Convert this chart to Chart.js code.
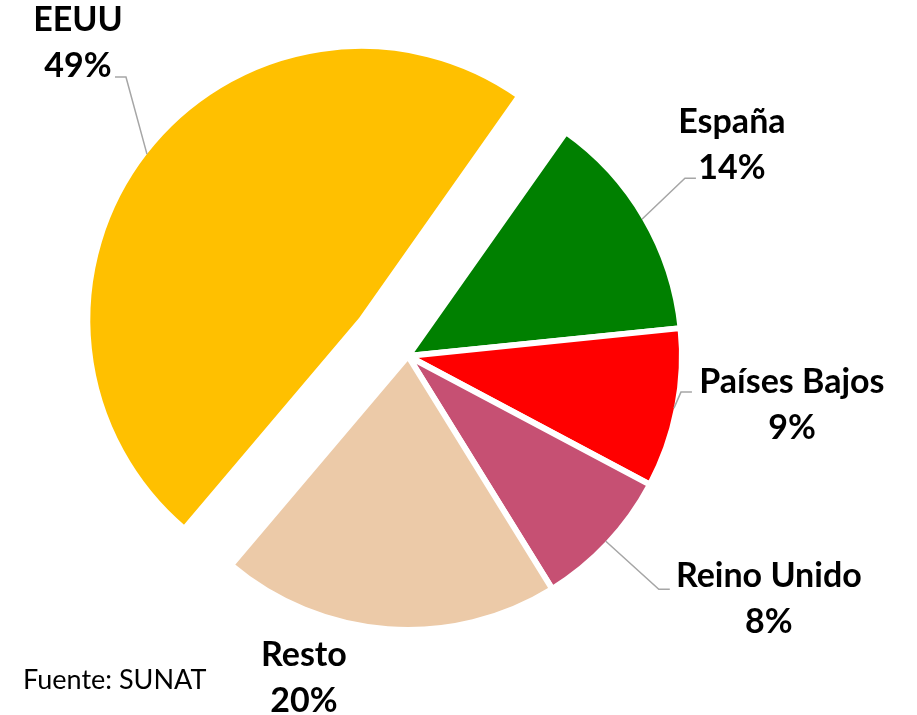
<!DOCTYPE html>
<html lang="es">
<head>
<meta charset="utf-8">
<title>Exportaciones por destino</title>
<script src="https://cdn.jsdelivr.net/npm/chart.js@4.4.1/dist/chart.umd.min.js"></script>
<style>
  html, body { margin: 0; padding: 0; background: #fff; }
  #wrap { position: relative; width: 917px; height: 715px; }
</style>
</head>
<body>
<div id="wrap"><canvas id="chart"></canvas></div>
<script>
// ── Datos (% del total), en orden horario empezando por España ──
const paises = ['España', 'Países Bajos', 'Reino Unido', 'Resto', 'EEUU'];
const participacion = [13.6, 9.4, 8.4, 20.0, 48.6];
const colores = ['#008000', '#FF0000', '#C65073', '#ECCAA8', '#FFC000'];
const fuente = 'Fuente: SUNAT';

// porción separada (EEUU) y cuánto se aleja del centro
const EXPLODE_INDEX = 4;
const EXPLODE_DIST = 59;
const BORDER = 6;

// etiqueta: línea base de la 1a línea respecto al punto medio del borde de la porción
// leader: punto donde termina la línea guía, relativo a la etiqueta
const LABEL_POS = [
  { dx: 90, dy: -86, leader: [-36, 45], side: 1 },
  { dx: 118, dy: -15, leader: [-100, -1], side: 1 },
  { dx: 163, dy: 46, leader: [-99, 2], side: 1 },
  { dx: -84, dy: 40, leader: null },
  { dx: -69, dy: -123, leader: [37, 46], side: -1 },
];

const explodePlugin = {
  id: 'explode',
  beforeDatasetsDraw(chart) {
    const arc = chart.getDatasetMeta(0).data[EXPLODE_INDEX];
    if (!arc) return;
    const a = chart.chartArea;
    const cx = (a.left + a.right) / 2, cy = (a.top + a.bottom) / 2;
    const mid = (arc.startAngle + arc.endAngle) / 2;
    arc.x = cx + Math.cos(mid) * EXPLODE_DIST;
    arc.y = cy + Math.sin(mid) * EXPLODE_DIST;
  }
};

const labelPlugin = {
  id: 'etiquetas',
  afterDatasetsDraw(chart) {
    const ctx = chart.ctx;
    const meta = chart.getDatasetMeta(0);
    const values = chart.data.datasets[0].data;
    ctx.save();
    meta.data.forEach((arc, i) => {
      const mid = (arc.startAngle + arc.endAngle) / 2;
      const r = arc.outerRadius - BORDER / 2;
      const ex = arc.x + Math.cos(mid) * r;
      const ey = arc.y + Math.sin(mid) * r;
      const p = LABEL_POS[i];
      const lx = ex + p.dx, ly = ey + p.dy;
      if (p.leader) {
        const ax = lx + p.leader[0], ay = ly + p.leader[1];
        ctx.beginPath();
        ctx.moveTo(ex, ey);
        ctx.lineTo(ax - p.side * 11, ay);
        ctx.lineTo(ax, ay);
        ctx.strokeStyle = '#A6A6A6';
        ctx.lineWidth = 1.5;
        ctx.stroke();
      }
      ctx.fillStyle = '#000';
      ctx.font = 'bold 34px Lato';
      ctx.textAlign = 'center';
      ctx.textBaseline = 'alphabetic';
      ctx.fillText(chart.data.labels[i], lx, ly);
      ctx.fillText(Math.round(values[i]) + '%', lx, ly + 46);
    });
    ctx.font = '27px Lato';
    ctx.textAlign = 'left';
    ctx.fillStyle = '#000';
    ctx.fillText(fuente, 23, 689);
    ctx.restore();
  }
};

new Chart(document.getElementById('chart'), {
  type: 'pie',
  data: {
    labels: paises,
    datasets: [{
      data: participacion,
      backgroundColor: colores,
      borderColor: '#FFFFFF',
      borderWidth: BORDER,
    }],
  },
  options: {
    responsive: true, maintainAspectRatio: false,
    animation: false,
    events: [],
    rotation: 35.2,
    radius: 274,
    layout: { padding: { left: 0, top: 0, right: 101, bottom: 3 } },
    plugins: {
      legend: { display: false },
      tooltip: { enabled: false },
    },
  },
  plugins: [explodePlugin, labelPlugin],
});
</script>
</body>
</html>
